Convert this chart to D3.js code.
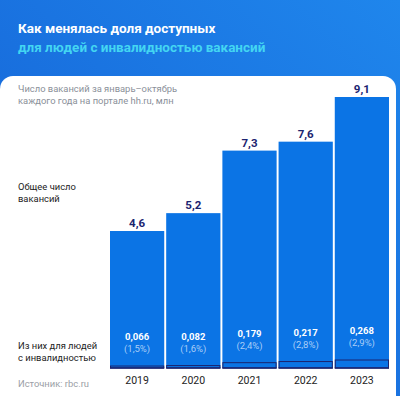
<!DOCTYPE html>
<html>
<head>
<meta charset="utf-8">
<script src="https://cdn.jsdelivr.net/npm/d3@7"></script>
<style>
  html, body { margin: 0; padding: 0; background: #fff; }
  svg { display: block; font-family: Roboto, "Noto Sans", sans-serif; }
</style>
</head>
<body>
<div class="chart--container"></div>
<script>
let years = ['2019', '2020', '2021', '2022', '2023'],
    total = [4.6, 5.2, 7.3, 7.6, 9.1],                    // all vacancies, mln
    disabled = [0.066, 0.082, 0.179, 0.217, 0.268],      // for people with disabilities, mln
    totalLabels = ['4,6', '5,2', '7,3', '7,6', '9,1'],
    disabledLabels = ['0,066', '0,082', '0,179', '0,217', '0,268'],
    shareLabels = ['(1,5%)', '(1,6%)', '(2,4%)', '(2,8%)', '(2,9%)'];

let W = 400, H = 396,
    plot = {l: 110, r: 389, t: 97, b: 368},
    blue = '#0b74e5',
    navy = '#1b2470';

let svg = d3.select('.chart--container')
            .append('svg')
            .attr('width', W)
            .attr('height', H);

// background gradient
let grad = svg.append('defs')
              .append('linearGradient')
              .attr('id', 'bg')
              .attr('x1', '0%').attr('y1', '100%')
              .attr('x2', '100%').attr('y2', '0%');
grad.append('stop').attr('offset', '0%').attr('stop-color', '#145fd4');
grad.append('stop').attr('offset', '100%').attr('stop-color', '#1f86ec');

svg.append('rect')
    .attr('width', W)
    .attr('height', H)
    .attr('fill', 'url(#bg)');

// white card
svg.append('rect')
    .attr('x', 0)
    .attr('y', 76)
    .attr('width', 396)
    .attr('height', H)
    .attr('rx', 13)
    .attr('fill', '#fff');

// title
svg.append('text')
    .attr('x', 18).attr('y', 33)
    .attr('fill', '#fff')
    .attr('font-size', 13.5)
    .attr('font-weight', 'bold')
    .text('Как менялась доля доступных');
svg.append('text')
    .attr('x', 18).attr('y', 52)
    .attr('fill', '#43d6f2')
    .attr('font-size', 13.5)
    .attr('font-weight', 'bold')
    .text('для людей с инвалидностью вакансий');

// side notes
let note = (lines, y, color) => {
    let t = svg.append('text')
               .attr('x', 18).attr('y', y)
               .attr('fill', color)
               .attr('font-size', 9.4);
    lines.forEach((s, i) => t.append('tspan').attr('x', 18).attr('dy', i ? 12 : 0).text(s));
};
note(['Число вакансий за январь–октябрь', 'каждого года на портале hh.ru, млн'], 92, '#8a8f99');
note(['Общее число', 'вакансий'], 190, '#222');
note(['Из них для людей', 'с инвалидностью'], 349, '#222');
note(['Источник: rbc.ru'], 387, '#9a9ea6');

// scales
let scale_x = d3.scaleBand()
                .domain(years)
                .range([plot.l, plot.r])
                .paddingInner(0.035)
                .paddingOuter(0);

let scale_y = d3.scaleLinear()
                .domain([0, 9.1])
                .range([plot.b, plot.t]);

let bars = svg.append('g');

// total bars
bars.selectAll('rect.total')
    .data(years)
    .enter()
    .append('rect')
    .attr('class', 'total')
    .attr('x', y => scale_x(y))
    .attr('y', (y, i) => scale_y(total[i]))
    .attr('width', scale_x.bandwidth())
    .attr('height', (y, i) => plot.b - scale_y(total[i]))
    .attr('fill', blue);

// disabled bars (outlined)
bars.selectAll('rect.dis')
    .data(years)
    .enter()
    .append('rect')
    .attr('class', 'dis')
    .attr('x', y => scale_x(y) + 0.5)
    .attr('y', (y, i) => scale_y(disabled[i]))
    .attr('width', scale_x.bandwidth() - 1)
    .attr('height', (y, i) => plot.b - scale_y(disabled[i]))
    .attr('fill', blue)
    .attr('stroke', navy)
    .attr('stroke-width', 1);

// baseline
bars.selectAll('line.base')
    .data(years)
    .enter()
    .append('line')
    .attr('x1', y => scale_x(y))
    .attr('x2', y => scale_x(y) + scale_x.bandwidth())
    .attr('y1', plot.b)
    .attr('y2', plot.b)
    .attr('stroke', navy)
    .attr('stroke-width', 1.5);

let cx = y => scale_x(y) + scale_x.bandwidth() / 2;

// total labels
svg.selectAll('text.tot')
    .data(years)
    .enter()
    .append('text')
    .attr('x', cx)
    .attr('y', (y, i) => scale_y(total[i]) - 4)
    .attr('text-anchor', 'middle')
    .attr('fill', navy)
    .attr('font-size', 11.5)
    .attr('font-weight', 'bold')
    .text((y, i) => totalLabels[i]);

// disabled labels
svg.selectAll('text.dv')
    .data(years)
    .enter()
    .append('text')
    .attr('x', cx)
    .attr('y', (y, i) => scale_y(disabled[i]) - 26)
    .attr('text-anchor', 'middle')
    .attr('fill', '#fff')
    .attr('font-size', 9.5)
    .attr('font-weight', 'bold')
    .text((y, i) => disabledLabels[i]);

svg.selectAll('text.sh')
    .data(years)
    .enter()
    .append('text')
    .attr('x', cx)
    .attr('y', (y, i) => scale_y(disabled[i]) - 14)
    .attr('text-anchor', 'middle')
    .attr('fill', '#a9cdf7')
    .attr('font-size', 9.5)
    .text((y, i) => shareLabels[i]);

// x-axis
let ax = svg.append('g')
            .attr('transform', `translate(0, ${plot.b})`)
            .call(d3.axisBottom(scale_x).tickSize(0).tickPadding(9));
ax.select('.domain').remove();
ax.selectAll('text')
    .attr('font-size', 10.5)
    .attr('font-family', 'Roboto, "Noto Sans", sans-serif')
    .attr('fill', '#222');
</script>
</body>
</html>
